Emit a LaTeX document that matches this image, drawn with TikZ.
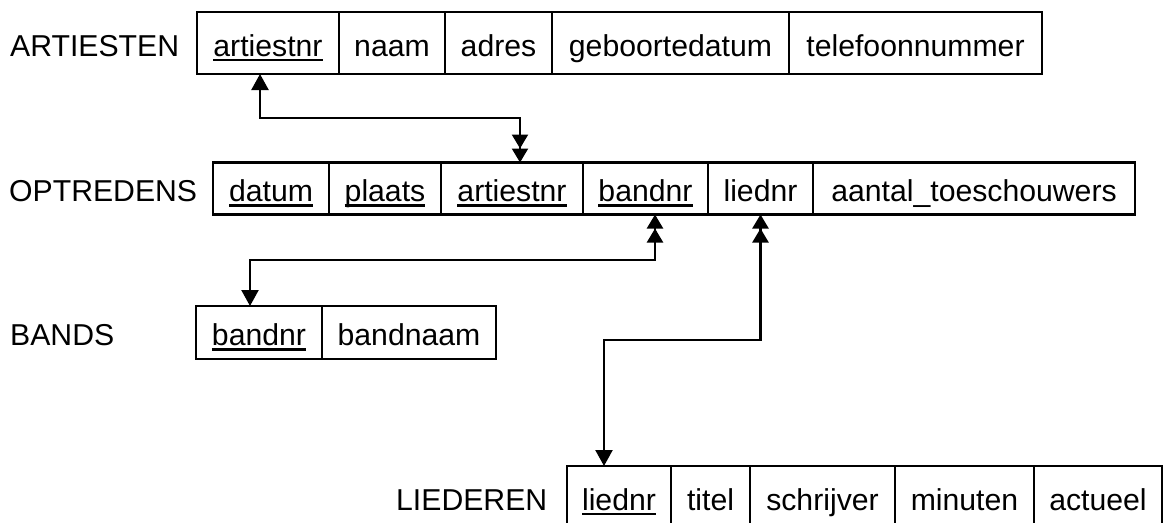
\documentclass[tikz,border=0pt]{standalone}
\usepackage{fontspec}
\setmainfont{Liberation Sans}
\usetikzlibrary{arrows.meta,calc}

% primary-key attribute: text with a thick rule under it
\newsavebox\keybox
\newcommand\keyattr[1]{\sbox\keybox{#1}\rlap{\rule[-5pt]{\wd\keybox}{2.2pt}}\usebox\keybox}

\begin{document}
\begin{tikzpicture}[x=1pt,y=-1pt,
  every node/.style={font=\fontsize{30.2pt}{36pt}\selectfont},
  cell/.style={draw, line width=2.3pt, inner sep=0pt, outer sep=0pt,
    text height=26pt, text depth=0pt, anchor=west, minimum width=#1},
  tall/.style={minimum height=62pt},
  low/.style={minimum height=52pt},
  tablename/.style={anchor=west, inner sep=0pt, text height=26pt, text depth=0pt},
  link/.style={line width=2.3pt, line join=miter,
    arrows={{Triangle[length=16pt,width=17pt]}-{Triangle[length=14pt,width=16pt,sep=0pt]Triangle[length=14pt,width=16pt]}}},
]
\useasboundingbox (0,0) rectangle (1164,522);
\clip (0,0) rectangle (1164,522);

% ARTIESTEN
\node[tablename] (tA) at (10,43) {ARTIESTEN};
\node[cell=142,tall] (a1) at (197,43) {\keyattr{artiestnr}};
\node[cell=106,tall] (a2) at (a1.east) {naam};
\node[cell=107,tall] (a3) at (a2.east) {adres};
\node[cell=237,tall] (a4) at (a3.east) {geboortedatum};
\node[cell=253,tall] (a5) at (a4.east) {telefoonnummer};

% OPTREDENS
\node[tablename] (tO) at (9,188.5) {OPTREDENS};
\node[cell=116,low] (o1) at (213,188.5) {\keyattr{datum}};
\node[cell=112,low] (o2) at (o1.east) {\keyattr{plaats}};
\node[cell=142,low] (o3) at (o2.east) {\keyattr{artiestnr}};
\node[cell=125,low] (o4) at (o3.east) {\keyattr{bandnr}};
\node[cell=105,low] (o5) at (o4.east) {liednr};
\node[cell=322,low] (o6) at (o5.east) {aantal\_toeschouwers};

% BANDS
\node[tablename] (tB) at (10,332.5) {BANDS};
\node[cell=126,minimum height=53pt] (b1) at (196,332.5) {\keyattr{bandnr}};
\node[cell=174,minimum height=53pt] (b2) at (b1.east) {bandnaam};

% LIEDEREN
\node[tablename] (tL) at (396,497) {LIEDEREN};
\node[cell=104,tall] (l1) at (567,497) {\keyattr{liednr}};
\node[cell=79,tall] (l2) at (l1.east) {titel};
\node[cell=145,tall] (l3) at (l2.east) {schrijver};
\node[cell=139,tall] (l4) at (l3.east) {minuten};
\node[cell=128,tall] (l5) at (l4.east) {actueel};

% foreign-key references (single head: referenced key, double head: referencing side)
\coordinate (pa) at ([xshift=-8pt]a1.south);
\coordinate (po) at ([xshift=8pt]o3.north);
\draw[link] (pa) |- ($(pa)!.5!(po)$) -| (po);

\coordinate (pb) at ([xshift=-9pt]b1.north);
\coordinate (pob) at ([xshift=9.5pt]o4.south);
\draw[link] (pb) |- ($(pb)!.5!(pob)$) -| (pob);

\coordinate (pl) at ([xshift=-15pt]l1.north);
\coordinate (pol) at (o5.south);
\draw[link] (pl) |- ($(pl)!.5!(pol)$) -| (pol);
\end{tikzpicture}
\end{document}
